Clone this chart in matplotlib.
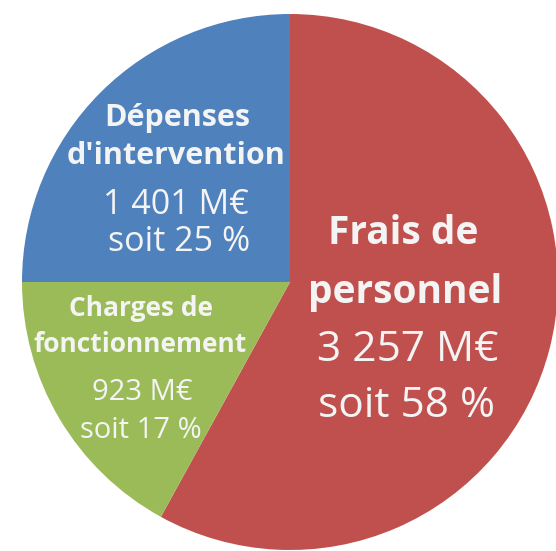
import matplotlib.pyplot as plt

# data
labels = ["Frais de personnel", "Charges de fonctionnement", "Dépenses d'intervention"]
amounts = [3257, 923, 1401]
shares = [58, 17, 25]
colors = ["#C0504D", "#9BBB59", "#4F81BD"]

W, H = 556, 551
fig = plt.figure(figsize=(W / 100, H / 100), dpi=100)
ax = fig.add_axes([0, 0, 1, 1])

cx, cy, r = 290, H - 282, 268
ax.pie(shares, colors=colors, startangle=90, counterclock=False,
       center=(cx, cy), radius=r, frame=True,
       wedgeprops=dict(linewidth=0))
ax.set_xlim(0, W)
ax.set_ylim(0, H)
ax.set_aspect("equal")
ax.axis("off")

txt = "#F4F4F4"
font = "Open Sans"


def label(x, y, s, size, bold=False):
    ax.text(x, H - y, s, ha="center", va="center", color=txt, fontsize=size,
            fontweight="bold" if bold else "normal", family=font)


def fmt(v):
    return f"{v:,}".replace(",", " ") + " M€"


# frais de personnel
label(403, 233, "Frais de", 28, True)
label(405, 293, "personnel", 28, True)
label(408, 350, fmt(amounts[0]), 30.5)
label(406, 406, f"soit {shares[0]} %", 30.5)

# depenses d'intervention
label(177, 118, "Dépenses", 22, True)
label(176, 156, "d'intervention", 22, True)
label(176, 205, fmt(amounts[2]), 24.5)
label(179, 242, f"soit {shares[2]} %", 24.5)

# charges de fonctionnement
label(141, 308, "Charges de", 19, True)
label(140, 345, "fonctionnement", 19, True)
label(142, 392, fmt(amounts[1]), 21)
label(141, 431, f"soit {shares[1]} %", 21)

fig.savefig("out.png", dpi=100)
